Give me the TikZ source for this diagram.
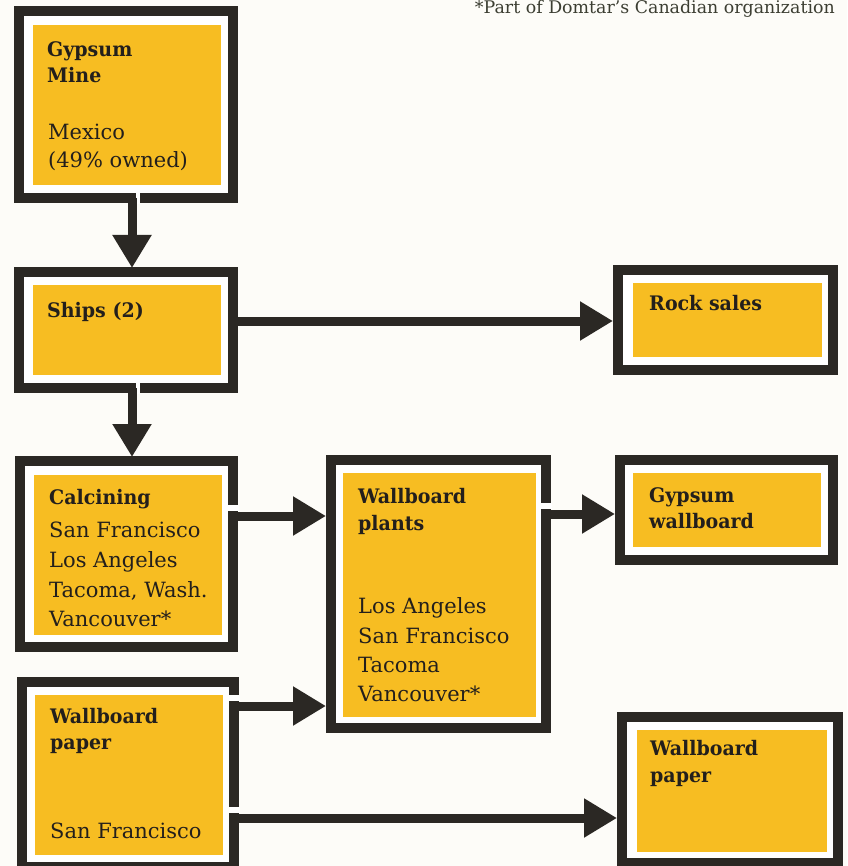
\documentclass[tikz,border=0pt]{standalone}
\usepackage{fontspec}
\setmainfont{DejaVu Serif}
\newfontfamily\headfont{DejaVu Serif}[FakeStretch=0.95]
\usetikzlibrary{arrows.meta}
\definecolor{frm}{RGB}{43,40,36}
\definecolor{yel}{RGB}{247,189,34}
\definecolor{bg}{RGB}{253,252,248}
\definecolor{ink}{RGB}{35,31,28}
\definecolor{note}{RGB}{60,62,50}
\tikzset{
  frame/.style={draw=frm, line width=10pt, fill=white, rectangle, inner sep=0pt, outer sep=0pt},
  headtxt/.style={anchor=base west, inner sep=0pt, text=ink, font=\headfont\bfseries\fontsize{20}{24}\selectfont},
  bodytxt/.style={anchor=base west, inner sep=0pt, text=ink, font=\fontsize{21}{25}\selectfont},
  arr/.style={draw=frm, line width=9pt, -{Triangle[length=33pt,width=37pt]}},
  gapfill/.style={fill=white},
}
\begin{document}
\begin{tikzpicture}[x=1pt,y=-1pt]
\useasboundingbox (0,0) rectangle (847,866);
\clip (0,0) rectangle (847,866);
\fill[bg] (0,0) rectangle (847,866);

% footnote
\node[anchor=base east, inner sep=0pt, text=note, font=\fontsize{17.4}{20}\selectfont] (fn) at (835,14) {*Part of Domtar’s Canadian organization};

% frames
\node[frame, minimum width=214pt, minimum height=187pt] (mineF) at (126,104.5) {};
\node[frame, minimum width=214pt, minimum height=116pt] (shipsF) at (126,330) {};
\node[frame, minimum width=213pt, minimum height=186pt] (calcF) at (126.5,554) {};
\node[frame, minimum width=212pt, minimum height=185pt] (paperF) at (128,774.5) {};
\node[frame, minimum width=215pt, minimum height=268pt] (plantsF) at (438.5,594) {};
\node[frame, minimum width=215pt, minimum height=100pt] (rockF) at (725.5,320) {};
\node[frame, minimum width=213pt, minimum height=100pt] (gwF) at (726.5,510) {};
\node[frame, minimum width=216pt, minimum height=146pt] (paperRF) at (730,790) {};

% yellow panels
\fill[yel] (33,25) rectangle (221,185);
\fill[yel] (33,285) rectangle (221,375);
\fill[yel] (34,475) rectangle (222,635);
\fill[yel] (35,695) rectangle (223,855);
\fill[yel] (343,473) rectangle (536,717);
\fill[yel] (633,283) rectangle (822,357);
\fill[yel] (633,473) rectangle (821,547);
\fill[yel] (637,730) rectangle (827,852);

% white notches beside the outgoing stems
\fill[gapfill] (136,192) rectangle (140,204);
\fill[gapfill] (136,382) rectangle (140,394);
\fill[gapfill] (227,505) rectangle (239,511);
\fill[gapfill] (227,695) rectangle (240,701);
\fill[gapfill] (227,807) rectangle (240,813);
\fill[gapfill] (540,503) rectangle (552,509);

% connectors
\draw[arr, shorten >=4pt] (mineF.south -| 132,0) -- (shipsF.north -| 132,0);
\draw[arr, shorten >=4pt] (shipsF.south -| 132,0) -- (calcF.north -| 132,0);
\draw[arr, shorten >=5pt] (shipsF.east |- 0,321) -- (rockF.west |- 0,321);
\draw[arr, shorten >=5pt] (calcF.east |- 0,516) -- (plantsF.west |- 0,516);
\draw[arr, shorten >=5pt] (paperF.east |- 0,706) -- (plantsF.west |- 0,706);
\draw[arr, shorten >=5pt] (plantsF.east |- 0,514) -- (gwF.west |- 0,514);
\draw[arr, shorten >=5pt] (paperF.east |- 0,818) -- (paperRF.west |- 0,818);

% texts
\node[headtxt] (t1a) at (47,57) {Gypsum};
\node[headtxt] (t1b) at (47,83) {Mine};
\node[bodytxt] (t1c) at (48,140) {Mexico};
\node[bodytxt] (t1d) at (48,168) {(49\% owned)};

\node[headtxt] (t2a) at (47,317) {Ships (2)};

\node[headtxt] (t3a) at (49,504) {Calcining};
\node[bodytxt] (t3b) at (49,537) {San Francisco};
\node[bodytxt] (t3c) at (49,567) {Los Angeles};
\node[bodytxt] (t3d) at (49,597) {Tacoma, Wash.};
\node[bodytxt] (t3e) at (49,626) {Vancouver*};

\node[headtxt] (t4a) at (50,723) {Wallboard};
\node[headtxt] (t4b) at (50,749) {paper};
\node[bodytxt] (t4c) at (50,838) {San Francisco};

\node[headtxt] (t5a) at (358,503) {Wallboard};
\node[headtxt] (t5b) at (358,530) {plants};
\node[bodytxt] (t5c) at (358,613) {Los Angeles};
\node[bodytxt] (t5d) at (358,643) {San Francisco};
\node[bodytxt] (t5e) at (358,672) {Tacoma};
\node[bodytxt] (t5f) at (358,701) {Vancouver*};

\node[headtxt] (t6a) at (649,310) {Rock sales};

\node[headtxt] (t7a) at (649,502) {Gypsum};
\node[headtxt] (t7b) at (649,528) {wallboard};

\node[headtxt] (t8a) at (650,755) {Wallboard};
\node[headtxt] (t8b) at (650,782) {paper};
\end{tikzpicture}
\end{document}
